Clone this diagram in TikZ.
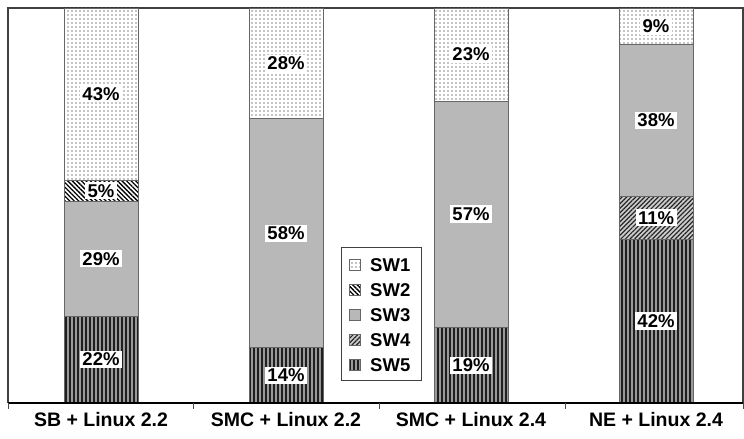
\documentclass[tikz,border=0pt]{standalone}
\usepackage{fontspec}
\setmainfont{Liberation Sans}
\usetikzlibrary{patterns.meta}

\begin{document}
\begin{tikzpicture}[
    x=1bp, y=1bp,
    seg/.style={draw=black!60, line width=0.6bp},
    sw1/.style={seg, preaction={fill=white}, pattern={Dots[distance=4bp, radius=0.55bp]}, pattern color=black},
    sw2/.style={seg, preaction={fill=white}, pattern={Lines[angle=-45, distance=3.2bp, line width=1.3bp]}, pattern color=black},
    sw3/.style={seg, preaction={fill=black!18}, pattern={Dots[distance=2bp, radius=0.55bp]}, pattern color=black!60},
    sw4/.style={seg, preaction={fill=black!20}, pattern={Lines[angle=45, distance=3.2bp, line width=1.2bp]}, pattern color=black!85},
    sw5/.style={seg, preaction={fill=black!88}, pattern={Lines[angle=90, distance=4bp, line width=1.2bp]}, pattern color=black!40},
    pct/.style={fill=white, inner xsep=2.5bp, inner ysep=2bp, font=\fontsize{18.5bp}{20bp}\bfseries},
    cat/.style={font=\fontsize{19.5bp}{22bp}\bfseries},
    key/.style={anchor=west, inner sep=0pt, font=\fontsize{18.5bp}{20bp}\bfseries}
]
    \useasboundingbox (0,0) rectangle (744,439);

    % Plot frame
    \draw[black!75, line width=1.2bp] (8,36) -- (8,431) -- (743,431) -- (743,36);

    % Stacked bars
    \begin{scope}[shift={(0,36)}, y=3.95bp]
        \foreach \n/\cx/\lo/\hi/\sw/\val in {
            sbe/101/0/22/sw5/22, sbc/101/22/51/sw3/29, sbb/101/51/56.5/sw2/5, sba/101/56.5/100/sw1/43,
            smce/286/0/14/sw5/14, smcc/286/14/72/sw3/58, smca/286/72/100/sw1/28,
            smcne/471/0/19.2/sw5/19, smcnc/471/19.2/76.5/sw3/57, smcna/471/76.5/100/sw1/23,
            nee/656/0/41.5/sw5/42, ned/656/41.5/52.3/sw4/11, nec/656/52.3/90.9/sw3/38, nea/656/90.9/100/sw1/9}
        {
            \path[\sw] (\cx-37,\lo) rectangle (\cx+37,\hi);
            \node[pct] (\n) at (\cx,{(\lo+\hi)/2}) {\val\%};
        }
    \end{scope}

    % Axis
    \draw[line width=1.5bp] (8,36) -- (743,36);
    \foreach \t in {8,193.75,379.5,565.25,743}
        \draw[black!70, line width=1bp] (\t,36) -- (\t,30);

    \node[cat] (catsb) at (101,19) {SB + Linux 2.2};
    \node[cat] (catsmc) at (286,19) {SMC + Linux 2.2};
    \node[cat] (catsmcn) at (471,19) {SMC + Linux 2.4};
    \node[cat] (catne) at (656,19) {NE + Linux 2.4};

    % Legend
    \node[draw=black!75, line width=0.8bp, fill=white, minimum width=80bp, minimum height=133bp, inner sep=0pt] (legend) at (381,125.5) {};
    \foreach \sw/\k/\yy in {sw1/1/174, sw2/2/149, sw3/3/124, sw4/4/99, sw5/5/74}
    {
        \path[\sw] (349,\yy-5.5) rectangle (360,\yy+5.5);
        \node[key] (key\k) at (370,\yy) {SW\k};
    }
\end{tikzpicture}
\end{document}
